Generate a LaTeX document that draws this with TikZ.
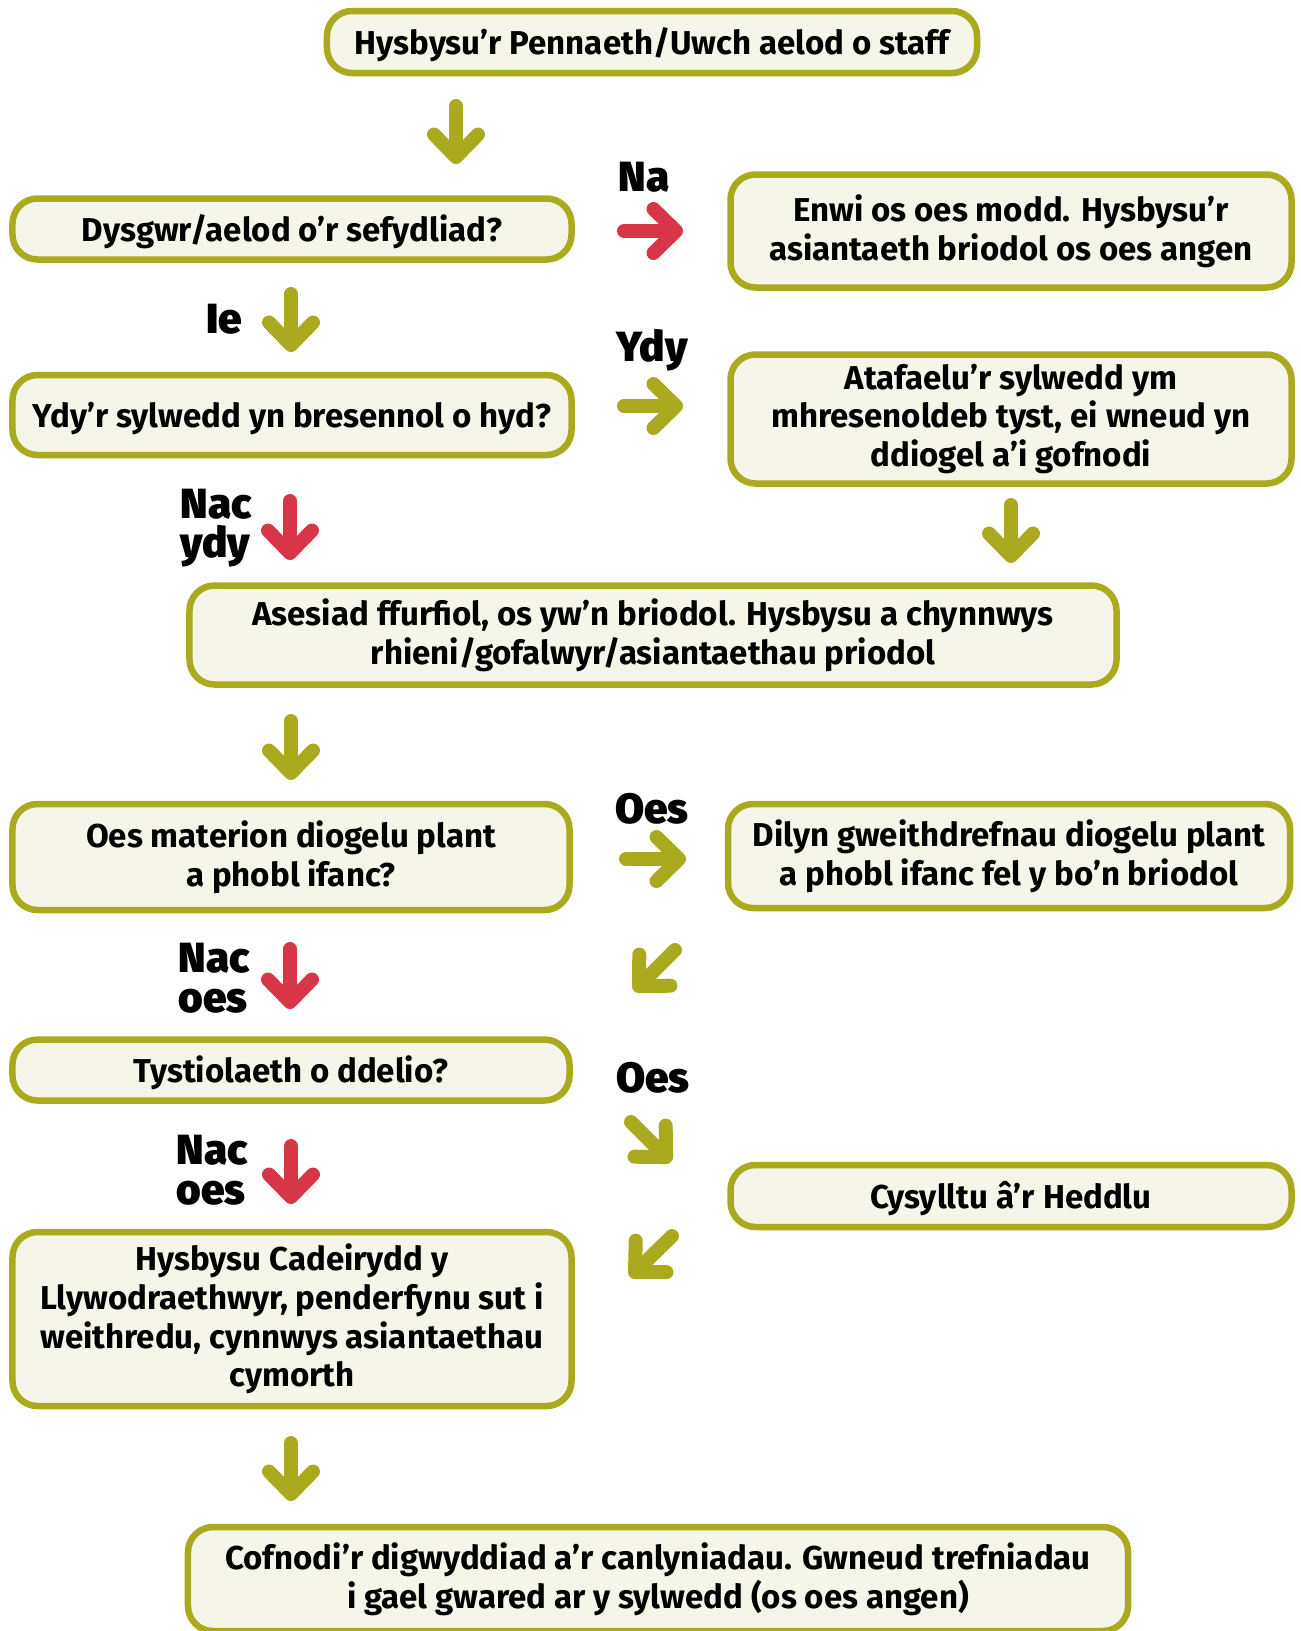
\documentclass[tikz,border=0pt]{standalone}
\usepackage{fontspec}
\setmainfont{Fira Sans}[UprightFont={* Bold},BoldFont={* Black}]
\usepackage{tikz}
\usetikzlibrary{arrows.meta}
\definecolor{olive}{HTML}{AAAA1E}
\definecolor{warnred}{HTML}{D63645}
\definecolor{cream}{HTML}{F6F5E9}
\tikzstyle{box}=[draw=olive,line width=1.3mm,fill=cream,rounded corners=5mm,align=center,inner sep=0pt,execute at begin node={\rule{0pt}{6.4mm}},font=\fontsize{18.8}{22}\selectfont]

\begin{document}
\begin{tikzpicture}[x=0.2mm,y=-0.2mm]

\tikzstyle{garrow}=[olive,line width=2.8mm,line cap=round,line join=round,-{Straight Barb[round,length=4.5mm,width=8.8mm]}]
\tikzstyle{rarrow}=[garrow,warnred]
\tikzstyle{answer}=[align=left,inner sep=0pt,font=\fontsize{24}{22.5}\selectfont\bfseries]

\useasboundingbox (0,0) rectangle (1300,1631);

% boxes
\node (A) [box,minimum width=130mm,minimum height=12.4mm] at (652,42)  {Hysbysu’r Pennaeth/Uwch aelod o staff};
\node (B) [box,minimum width=111.8mm,minimum height=12.2mm] at (292,229) {Dysgwr/aelod o’r sefydliad?};
\node (C) [box,minimum width=112.2mm,minimum height=22.6mm] at (1011,231) {Enwi os oes modd. Hysbysu’r\\asiantaeth briodol os oes angen};
\node (D) [box,minimum width=111.8mm,minimum height=16mm] at (292,415) {Ydy’r sylwedd yn bresennol o hyd?};
\node (E) [box,minimum width=112.2mm,minimum height=25.8mm] at (1011,419) {Atafaelu’r sylwedd ym\\mhresenoldeb tyst, ei wneud yn\\ddiogel a’i gofnodi};
\node (F) [box,minimum width=185.4mm,minimum height=19.8mm] at (653,635) {Asesiad ffurfiol, os yw’n briodol. Hysbysu a chynnwys\\rhieni/gofalwyr/asiantaethau priodol};
\node (G) [box,minimum width=111.4mm,minimum height=21.2mm] at (291,857) {Oes materion diogelu plant\\a phobl ifanc?};
\node (H) [box,minimum width=112.4mm,minimum height=20.8mm] at (1009,856) {Dilyn gweithdrefnau diogelu plant\\a phobl ifanc fel y bo’n briodol};
\node (I) [box,minimum width=111.4mm,minimum height=12.2mm] at (291,1070) {Tystiolaeth o ddelio?};
\node (J) [box,minimum width=112.2mm,minimum height=12.4mm] at (1011,1196) {Cysylltu â’r Heddlu};
\node (K) [box,minimum width=111.8mm,minimum height=34.8mm] at (292,1319) {Hysbysu Cadeirydd y\\Llywodraethwyr, penderfynu sut i\\weithredu, cynnwys asiantaethau\\cymorth};
\node (L) [box,minimum width=188mm,minimum height=20.8mm] at (658,1579) {Cofnodi’r digwyddiad a’r canlyniadau. Gwneud trefniadau\\i gael gwared ar y sylwedd (os oes angen)};

% answers
\node (na)    [answer] at (644,177)  {Na};
\node (ie)    [answer] at (224,319)  {Ie};
\node (ydy)   [answer] at (652,350)  {Ydy};
\node (nacA)  [answer] at (216,528)  {Nac\\ydy};
\node (oesA)  [answer] at (652,809)  {Oes};
\node (nacB)  [answer] at (214,978)  {Nac\\oes};
\node (oesB)  [answer] at (653,1078) {Oes};
\node (nacC)  [answer] at (212,1170) {Nac\\oes};

% arrow ends
\foreach \n/\x/\y in {p1/456/106, q1/456/164, p2/624/231, q2/683/231,
                      p3/291/294, q3/291/352, p4/624/406, q4/683/406,
                      p5/290/501, q5/290/560, p6/1011/505, q6/1011/563,
                      p7/291/721, q7/291/780, p8/626/859, q8/686/859,
                      p9/290/949, q9/290/1009, p10/675/950, q10/634/991,
                      p11/631/1122, q11/671/1162, p12/291/1146, q12/291/1204,
                      p13/672/1236, q13/630/1277, p14/291/1443, q14/291/1501}
  \coordinate (\n) at (\x,\y);

\draw [garrow] (p1) -- (q1);
\draw [rarrow] (p2) -- (q2);
\draw [garrow] (p3) -- (q3);
\draw [garrow] (p4) -- (q4);
\draw [rarrow] (p5) -- (q5);
\draw [garrow] (p6) -- (q6);
\draw [garrow] (p7) -- (q7);
\draw [garrow] (p8) -- (q8);
\draw [rarrow] (p9) -- (q9);
\draw [garrow] (p10) -- (q10);
\draw [garrow] (p11) -- (q11);
\draw [rarrow] (p12) -- (q12);
\draw [garrow] (p13) -- (q13);
\draw [garrow] (p14) -- (q14);

\end{tikzpicture}
\end{document}
